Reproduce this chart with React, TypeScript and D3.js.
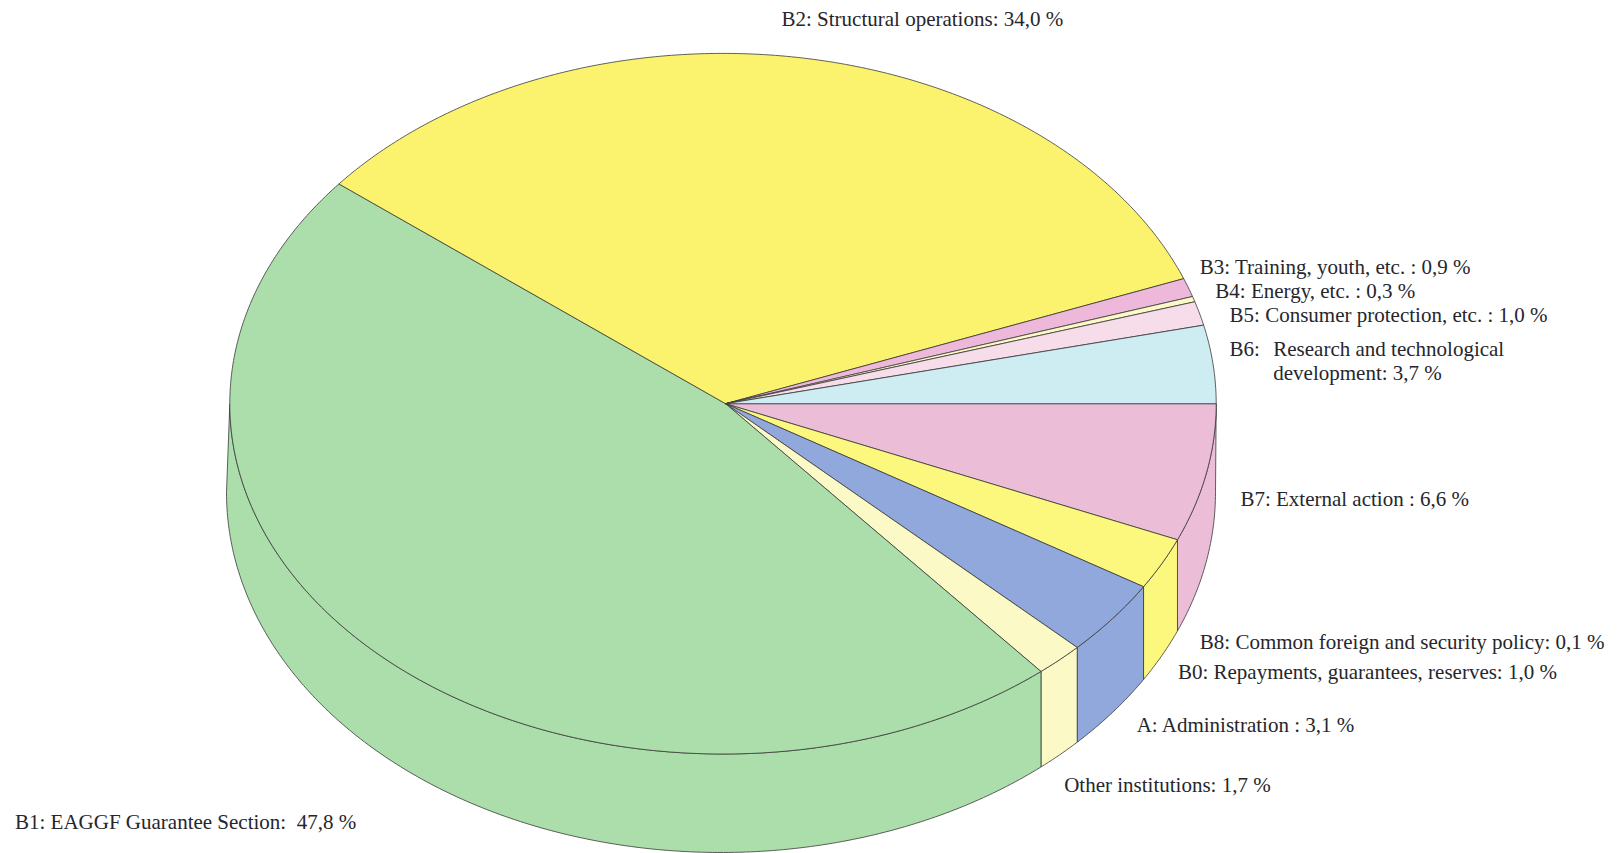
import React from "react";
import * as d3 from "d3";

// Wedge sizes as drawn in the picture (percent of the ellipse), clockwise from 3 o'clock
const sliceNames = ["B7", "B8+B0", "A", "Other", "B1", "B2", "B3", "B4", "B5", "B6"];
const sliceValues = [6.35, 2.4, 3.5, 1.6, 46.95, 33.4, 0.86, 0.25, 1.1, 3.6];
const sliceColors = ["#ebbdd6", "#fcf87e", "#91a8dd", "#fbf9c6", "#abdeaa", "#fbf36e", "#eeb8da", "#fbf9c6", "#f6dde9", "#cdedf3"];

const labelTexts = [
  "B2: Structural operations: 34,0 %",
  "B3: Training, youth, etc. : 0,9 %",
  "B4: Energy, etc. : 0,3 %",
  "B5: Consumer protection, etc. : 1,0 %",
  "B6:",
  "Research and technological",
  "development: 3,7 %",
  "B7: External action : 6,6 %",
  "B8: Common foreign and security policy: 0,1 %",
  "B0: Repayments, guarantees, reserves: 1,0 %",
  "A: Administration : 3,1 %",
  "Other institutions: 1,7 %",
  "B1: EAGGF Guarantee Section:  47,8 %",
];
const labelX = [781.5, 1199.8, 1215.3, 1229.6, 1229.6, 1273.3, 1273.3, 1240.4, 1199.8, 1177.9, 1136.7, 1064.2, 15];
const labelY = [25.7, 274.3, 297.7, 322, 356.3, 356.3, 380, 506, 649.3, 679.3, 731.7, 792.3, 829.3];

const W = 1623, H = 853;
const top = { cx: 723, cy: 403.7, rx: 493.2, ry: 350.3 };
const bot = { cx: 721, cy: 492.5, rx: 494.5, ry: 360 };
const apex: [number, number] = [725.6, 403.7];

// unit-circle scales mapped on to each ellipse
const tx = d3.scaleLinear().domain([-1, 1]).range([top.cx - top.rx, top.cx + top.rx]);
const ty = d3.scaleLinear().domain([-1, 1]).range([top.cy - top.ry, top.cy + top.ry]);
const bx = d3.scaleLinear().domain([-1, 1]).range([bot.cx - bot.rx, bot.cx + bot.rx]);
const by = d3.scaleLinear().domain([-1, 1]).range([bot.cy - bot.ry, bot.cy + bot.ry]);

const topPt = (t: number): [number, number] => [tx(Math.cos(t)), ty(Math.sin(t))];
const botPt = (t: number): [number, number] => [bx(Math.cos(t)), by(Math.sin(t))];
const botAngle = (x: number) => Math.acos(Math.max(-1, Math.min(1, bx.invert(x))));

const pie = d3.pie<number>().sort(null).startAngle(0).endAngle(2 * Math.PI);
const arcs = pie(sliceValues);
const lineGen = d3.line();

const range = (a: number, b: number) => {
  const n = Math.max(2, Math.ceil(Math.abs(b - a) * 90));
  return d3.range(n + 1).map((i) => a + ((b - a) * i) / n);
};

const topPath = (a: number, b: number) =>
  lineGen([apex, ...range(a, b).map(topPt)])! + "Z";

const sidePath = (a: number, b: number) => {
  const e = Math.min(b, Math.PI);
  const upper = range(a, e).map(topPt);
  const t0 = a === 0 ? 0 : botAngle(upper[0][0]);
  const t1 = e >= Math.PI ? Math.PI : botAngle(upper[upper.length - 1][0]);
  const lower = range(t1, t0).map(botPt);
  return lineGen([...upper, ...lower])! + "Z";
};

export default function App() {
  return (
    <svg width={W} height={H} viewBox={`0 0 ${W} ${H}`} style={{ position: "absolute", left: 0, top: 0, background: "#fff" }}>
      <g stroke="#3a3a3a" strokeWidth={0.8} strokeLinejoin="round">
        {arcs.map((d, i) =>
          d.startAngle < Math.PI ? (
            <path key={"s" + sliceNames[i]} d={sidePath(d.startAngle, d.endAngle)} fill={sliceColors[i]} />
          ) : null
        )}
        {arcs.map((d, i) => (
          <path key={"t" + sliceNames[i]} d={topPath(d.startAngle, d.endAngle)} fill={sliceColors[i]} />
        ))}
      </g>
      <g fontFamily="'Liberation Serif', serif" fontSize={21} fill="#26262c">
        {labelTexts.map((s, i) => (
          <text key={s} x={labelX[i]} y={labelY[i]} xmlSpace="preserve">
            {s}
          </text>
        ))}
      </g>
    </svg>
  );
}
